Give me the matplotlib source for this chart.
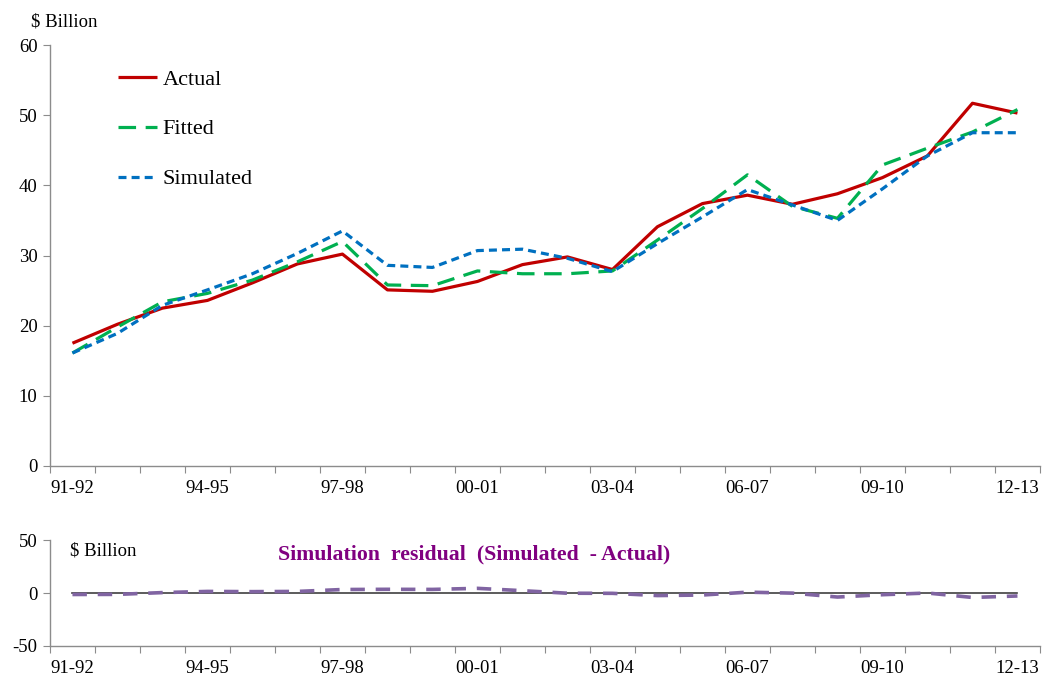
import numpy as np
import matplotlib
matplotlib.use('Agg')
import matplotlib.pyplot as plt

plt.rcParams['font.family'] = ['Liberation Serif', 'DejaVu Serif']
plt.rcParams['axes.unicode_minus'] = False

years = ['91-92', '92-93', '93-94', '94-95', '95-96', '96-97', '97-98', '98-99',
         '99-00', '00-01', '01-02', '02-03', '03-04', '04-05', '05-06', '06-07',
         '07-08', '08-09', '09-10', '10-11', '11-12', '12-13']

actual = [17.5, 20.2, 22.5, 23.6, 26.1, 28.8, 30.2, 25.1, 24.9, 26.3, 28.7,
          29.8, 28.0, 34.1, 37.4, 38.6, 37.3, 38.8, 41.1, 44.2, 51.7, 50.3]
fitted = [16.1, 19.8, 23.4, 24.6, 26.5, 29.1, 32.0, 25.8, 25.7, 27.8, 27.4,
          27.4, 27.8, 32.2, 36.7, 41.5, 37.0, 35.3, 42.9, 45.3, 47.6, 50.8]
simulated = [16.1, 18.9, 22.9, 25.1, 27.4, 30.3, 33.5, 28.6, 28.3, 30.7, 30.9,
             29.6, 27.7, 31.7, 35.5, 39.4, 37.2, 35.0, 39.5, 44.2, 47.5, 47.5]

x = np.arange(len(years))
residual = np.array(simulated) - np.array(actual)

fig = plt.figure(figsize=(10.56, 6.78), dpi=100)
ax = fig.add_axes([0.0473, 0.3127, 0.9375, 0.6209])
ax2 = fig.add_axes([0.0473, 0.0472, 0.9375, 0.1563])

gray = '#8c8c8c'


def style_axis(a):
    for s in ['top', 'right']:
        a.spines[s].set_visible(False)
    for s in ['left', 'bottom']:
        a.spines[s].set_color(gray)
        a.spines[s].set_linewidth(1.0)
    a.set_xlim(-0.5, len(years) - 0.5)
    # tick marks sit between categories, labels under every third category
    a.set_xticks(np.arange(-0.5, len(years), 1.0))
    a.set_xticklabels([])
    a.set_xticks(x[::3], minor=True)
    a.set_xticklabels(years[::3], minor=True)
    a.tick_params(axis='x', which='major', length=5, color=gray, direction='out')
    a.tick_params(axis='x', which='minor', length=0, pad=10, labelsize=13.5)
    a.tick_params(axis='y', length=5, color=gray, labelsize=13.5, pad=4)


ax.plot(x, actual, color='#C00000', lw=2.3, label='Actual', solid_capstyle='butt')
ax.plot(x, fitted, color='#00B050', lw=2.3, dashes=(5.5, 3), label='Fitted')
ax.plot(x, simulated, color='#0070C0', lw=2.3, dashes=(2.5, 1.6), label='Simulated')
ax.set_ylim(0, 60)
ax.set_yticks(range(0, 61, 10))
style_axis(ax)
ax.text(-0.019, 1.035, '$ Billion', transform=ax.transAxes, fontsize=13.5,
        ha='left', va='bottom')
ax.legend(loc='upper left', bbox_to_anchor=(0.069, 0.943), frameon=False,
          fontsize=16, handlelength=1.75, handletextpad=0.25, labelspacing=1.32,
          borderpad=0, borderaxespad=0)

ax2.plot(x, np.zeros(len(x)), color='#404040', lw=1.2)
ax2.plot(x, residual, color='#8064A2', lw=2.6, dashes=(4, 3))
ax2.set_ylim(-50, 50)
ax2.set_yticks([-50, 0, 50])
style_axis(ax2)
ax2.text(0.02, 0.9, '$ Billion', transform=ax2.transAxes, fontsize=13.5,
         ha='left', va='center')
ax2.text(0.428, 0.86, 'Simulation  residual  (Simulated  - Actual)',
         transform=ax2.transAxes, fontsize=15.7, fontweight='bold',
         color='#800080', ha='center', va='center')

fig.savefig('out.png', dpi=100)
